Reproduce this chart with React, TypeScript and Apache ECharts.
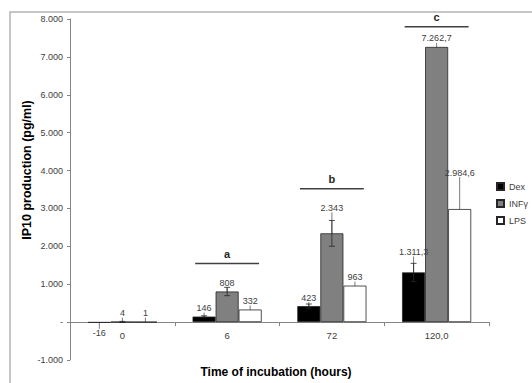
import React, { useEffect, useRef } from "react";
import * as echarts from "echarts";

const categories = ["0", "6", "72", "120,0"];
const seriesNames = ["Dex", "INFγ", "LPS"];
const dexValues = [-16, 146, 423, 1311.3];
const infValues = [4, 808, 2343, 7262.7];
const lpsValues = [1, 332, 963, 2984.6];
const dexErrors = [0, 20, 55, 240];
const infErrors = [15, 110, 340, 0];
const lpsErrors = [0, 0, 0, 0];
const sigCategoryIndex = [1, 2, 3];
const sigLevels = [1549, 3517, 7795];
const sigLetters = ["a", "b", "c"];
const yTicks = { min: -1000, max: 8000, interval: 1000 };

const FONT = "Liberation Sans";
const BAR_FRACTION = 0.66;
const GRID = { left: 70, right: 43, top: 19, bottom: 23 };
const CHART_H = 383;

function fmtNum(v: number): string {
  const neg = v < 0;
  const a = Math.abs(v);
  const isInt = Math.abs(a - Math.round(a)) < 1e-9;
  const intPart = isInt ? Math.round(a) : Math.floor(a);
  const s = String(intPart).replace(/\B(?=(\d{3})+(?!\d))/g, ".");
  let out = s;
  if (!isInt) {
    const dec = a.toFixed(1).split(".")[1];
    out = s + "," + dec;
  }
  return (neg ? "-" : "") + out;
}

export default function App() {
  const ref = useRef<HTMLDivElement>(null);
  useEffect(() => {
    if (!ref.current) return;
    const chart = echarts.init(ref.current, undefined, { renderer: "svg" });
    const fills = ["#000000", "#808080", "#ffffff"];
    const values = [dexValues, infValues, lpsValues];
    const errors = [dexErrors, infErrors, lpsErrors];
    const gridH = CHART_H - GRID.top - GRID.bottom;
    const zeroOffset = -(gridH * (0 - yTicks.min)) / (yTicks.max - yTicks.min);

    const barSeries = values.map((vals, si) => ({
      type: "bar",
      name: seriesNames[si],
      data: vals.map((v) => ({
        value: v,
        label: v < 0 ? { position: "bottom", distance: 6 } : undefined,
      })),
      barGap: "0%",
      barCategoryGap: "34%",
      itemStyle: { color: fills[si], borderColor: "#262626", borderWidth: 0.8 },
      label: {
        show: true,
        position: "top",
        distance: 4,
        fontSize: 9,
        fontFamily: FONT,
        color: "#404040",
        formatter: (p: any) => fmtNum(p.value),
      },
      labelLine: { show: true, lineStyle: { color: "#595959", width: 0.8 } },
      labelLayout: (p: any) => {
        if (si === 0 && p.dataIndex === 3) return { dy: -12 };
        if (si === 1 && p.dataIndex === 2) return { dy: -17 };
        if (si === 2 && p.dataIndex === 3) return { dy: -28 };
        return {};
      },
      z: 2,
    }));

    const errSeries = values.map((vals, si) => ({
      type: "custom",
      name: "err" + si,
      data: vals.map((v, i) => [i, v, errors[si][i]]),
      encode: { x: 0, y: 1 },
      z: 3,
      silent: true,
      renderItem: (params: any, api: any) => {
        const ci = api.value(0);
        const v = api.value(1);
        const e = api.value(2);
        if (!e) return { type: "group", children: [] };
        const band = api.size([1, 0])[0];
        const bw = (band * BAR_FRACTION) / 3;
        const x = api.coord([ci, v])[0] + (si - 1) * bw;
        const yTop = api.coord([ci, v + e])[1];
        const yBot = api.coord([ci, v - e])[1];
        const cap = 3;
        const st = { stroke: "#262626", lineWidth: 0.8 };
        return {
          type: "group",
          children: [
            { type: "line", shape: { x1: x, y1: yTop, x2: x, y2: yBot }, style: st },
            { type: "line", shape: { x1: x - cap, y1: yTop, x2: x + cap, y2: yTop }, style: st },
            { type: "line", shape: { x1: x - cap, y1: yBot, x2: x + cap, y2: yBot }, style: st },
          ],
        };
      },
    }));

    const sigSeries = {
      type: "custom",
      name: "sig",
      data: sigCategoryIndex.map((c, i) => [c, sigLevels[i]]),
      encode: { x: 0, y: 1 },
      z: 4,
      silent: true,
      renderItem: (params: any, api: any) => {
        const ci = api.value(0);
        const lv = api.value(1);
        const band = api.size([1, 0])[0];
        const half = band * 0.305;
        const [cx, cy] = api.coord([ci, lv]);
        return {
          type: "group",
          children: [
            {
              type: "line",
              shape: { x1: cx - half, y1: cy, x2: cx + half, y2: cy },
              style: { stroke: "#404040", lineWidth: 1.5 },
            },
            {
              type: "text",
              x: cx,
              y: cy - 4,
              style: {
                text: sigLetters[params.dataIndex],
                fontSize: 11,
                fontWeight: "bold",
                fontFamily: FONT,
                fill: "#262626",
                align: "center",
                verticalAlign: "bottom",
              },
            },
          ],
        };
      },
    };

    chart.setOption({
      animation: false,
      backgroundColor: "#ffffff",
      grid: GRID,
      legend: {
        data: seriesNames,
        orient: "vertical",
        left: 491,
        top: 176,
        icon: "rect",
        itemWidth: 7,
        itemHeight: 7,
        itemGap: 6,
        textStyle: { fontSize: 9, fontFamily: FONT, color: "#404040", lineHeight: 11 },
      },
      xAxis: {
        type: "category",
        data: categories,
        offset: zeroOffset,
        axisLine: { onZero: false, lineStyle: { color: "#868686", width: 1 } },
        axisTick: { show: true, length: 4, lineStyle: { color: "#868686" } },
        axisLabel: { fontSize: 9.5, fontFamily: FONT, color: "#404040", margin: 8 },
      },
      yAxis: {
        type: "value",
        min: yTicks.min,
        max: yTicks.max,
        interval: yTicks.interval,
        splitLine: { show: false },
        axisLine: { show: true, lineStyle: { color: "#868686", width: 1 } },
        axisTick: { show: true, length: 3, lineStyle: { color: "#868686" } },
        axisLabel: {
          fontSize: 9,
          fontFamily: FONT,
          color: "#404040",
          margin: 7,
          formatter: (v: number) => (v === 0 ? "-" : fmtNum(v)),
        },
      },
      graphic: [
        {
          type: "rect",
          shape: { x: 10, y: 12, width: 600, height: 500 },
          style: { fill: "none", stroke: "#b4b4b4", lineWidth: 1.5 },
          silent: true,
          z: -10,
        },
        {
          type: "text",
          x: 27,
          y: 170,
          rotation: Math.PI / 2,
          style: {
            text: "IP10 production (pg/ml)",
            fontSize: 12.5,
            fontWeight: "bold",
            fontFamily: FONT,
            fill: "#000000",
            align: "center",
            verticalAlign: "middle",
          },
        },
        {
          type: "text",
          x: 276,
          y: 372,
          style: {
            text: "Time of incubation (hours)",
            fontSize: 12,
            fontWeight: "bold",
            fontFamily: FONT,
            fill: "#000000",
            align: "center",
            verticalAlign: "middle",
          },
        },
      ],
      series: [...barSeries, ...errSeries, sigSeries],
    });
    return () => chart.dispose();
  }, []);
  return (
    <div
      ref={ref}
      style={{ position: "fixed", left: 0, top: 0, width: 532, height: 383, background: "#fff" }}
    />
  );
}
